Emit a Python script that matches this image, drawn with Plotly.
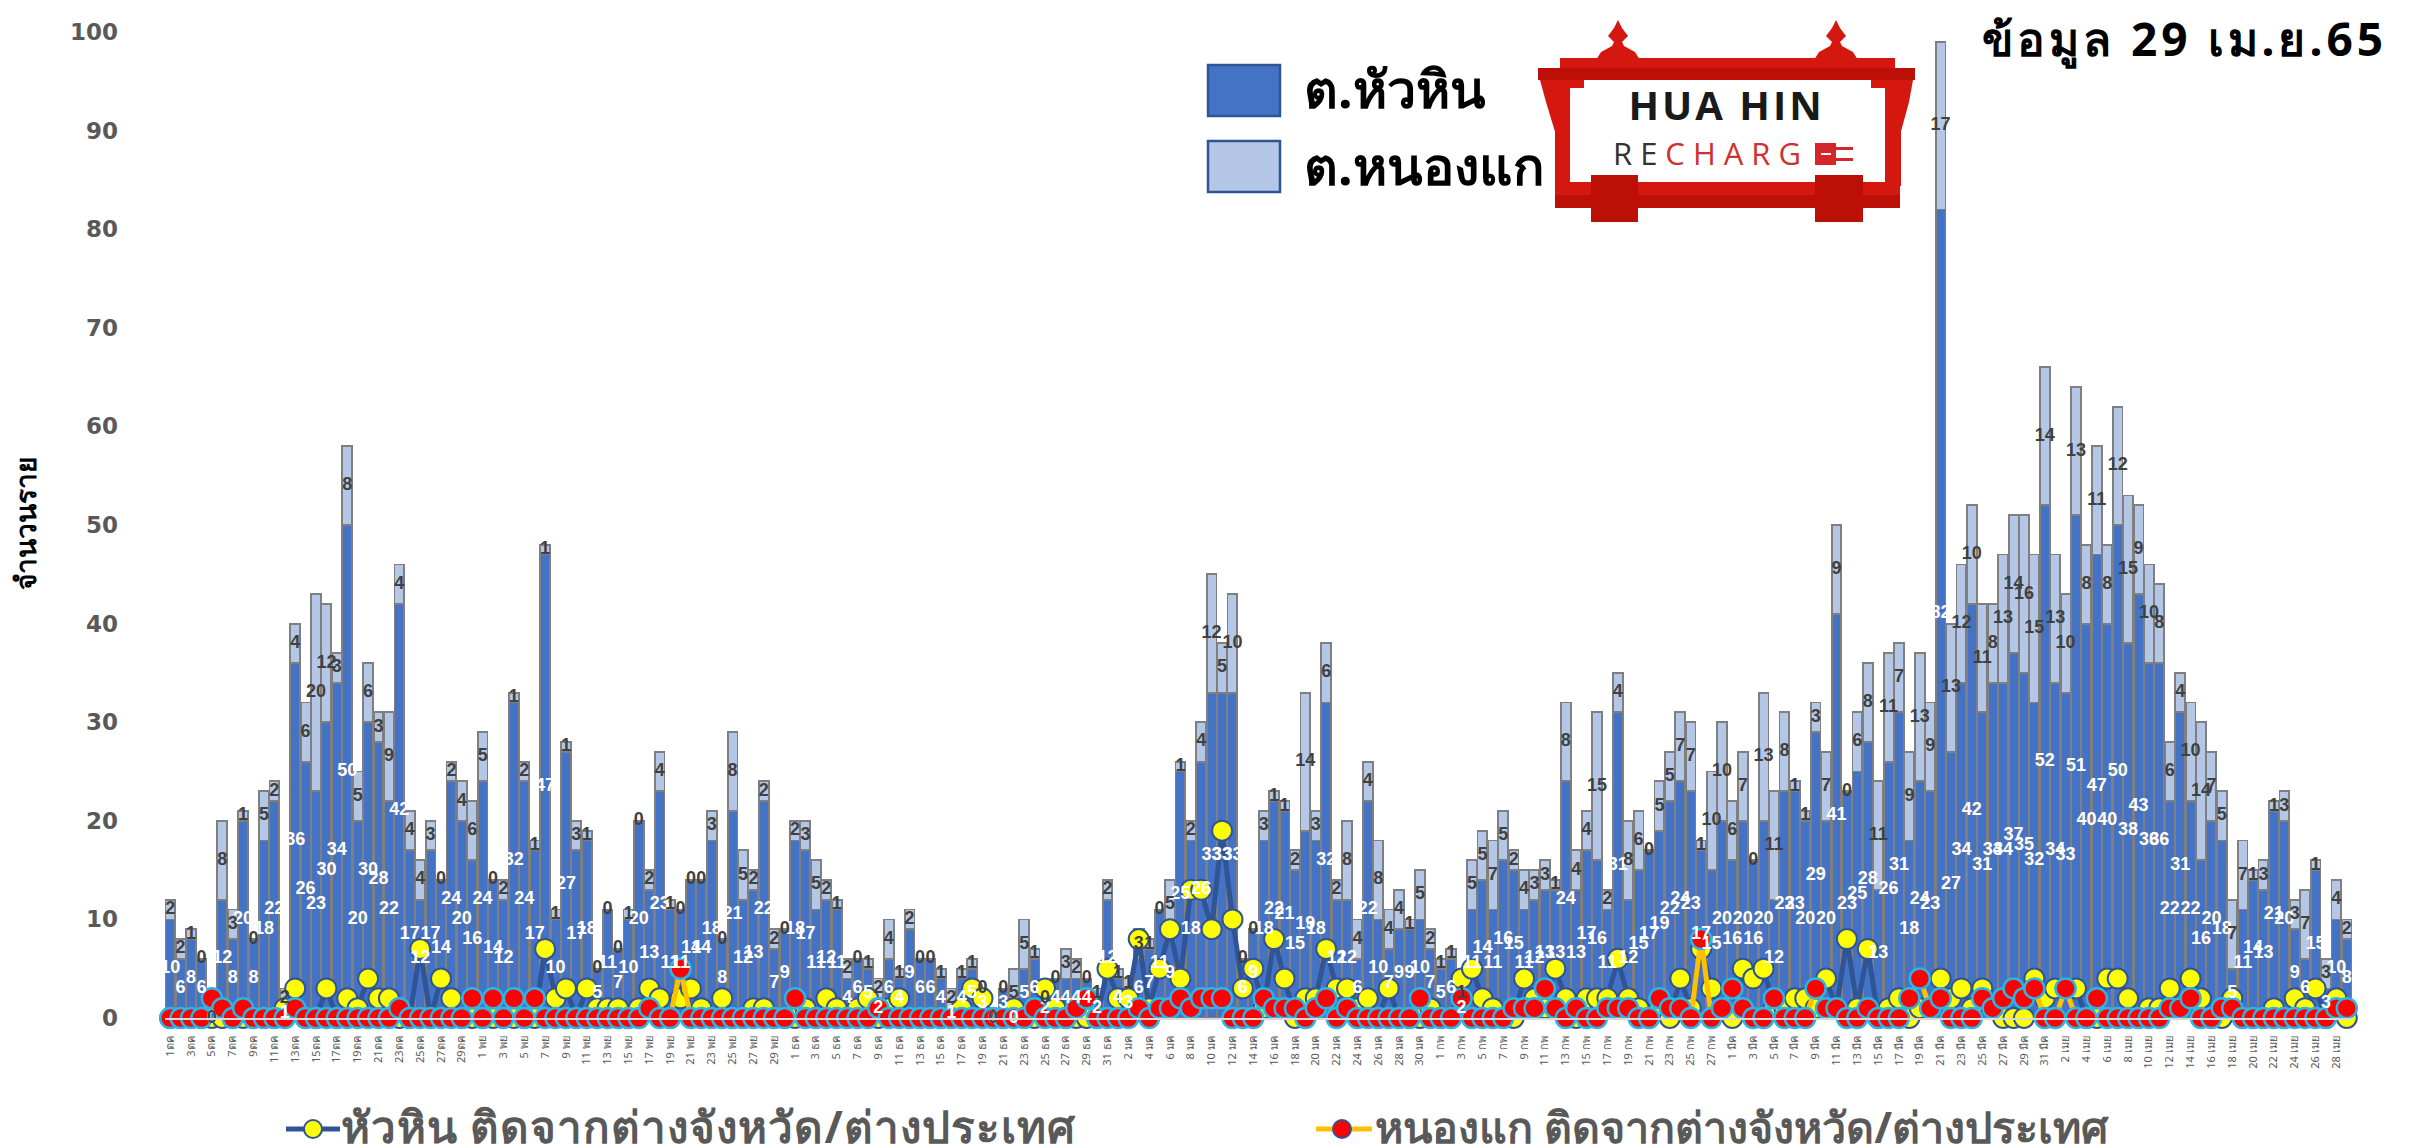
import plotly.graph_objects as go

month_names = ["ตค", "พย", "ธค", "มค", "กพ", "มีค", "เมย"]
month_days = [30, 30, 31, 31, 28, 31, 29]
categories = []
for m, n in zip(month_names, month_days):
    for d in range(1, n + 1):
        categories.append(f"{d}{m}" if m == "ตค" else f"{d} {m}")

huahin = [10,6,8,6,0,12,8,20,8,18, 22,1,36,26,23,30,34,50,20,30, 28,22,42,17,12,17,14,24,20,16,
24,14,12,32,24,17,47,10,27,17, 18,5,11,7,10,20,13,23,11,11, 14,14,18,8,21,12,13,22,7,9,
18,17,11,12,11,4,6,5,2,6, 4,9,6,6,4,1,4,5,3,0, 3,0,5,6,2,4,4,4,4,2,
12,4,3,6,7,11,9,25,18,26, 33,33,33,6,9,18,22,21,15,19, 18,32,12,12,6,22,10,7,9,9,
10,7,5,6,2,11,14,11,16,15, 11,12,13,13,24,13,17,16,11,31, 12,15,17,19,22,24,23,17,15,20,
16,20,16,20,12,23,23,20,29,20, 41,23,25,28,13,26,31,18,24,23, 82,27,34,42,31,34,34,37,35,32,
52,34,33,51,40,47,40,50,38,43, 36,36,22,31,22,16,20,18,5,11, 14,13,21,20,9,6,15,3,10,8]

nongkae = [2,2,1,0,0,8,3,1,0,5, 2,2,4,6,20,12,3,8,5,6, 3,9,4,4,4,3,0,2,4,6,
5,0,2,1,2,1,1,1,1,3, 1,0,0,0,1,0,2,4,1,0, 0,0,3,0,8,5,2,2,2,0,
2,3,5,2,1,2,0,1,2,4, 1,2,0,0,1,2,1,1,0,0, 0,5,5,1,0,0,3,2,0,1,
2,1,1,3,1,0,5,1,2,4, 12,5,10,0,0,3,1,1,2,14, 3,6,2,8,4,4,8,4,4,1,
5,2,1,1,1,5,5,7,5,2, 4,3,3,1,8,4,4,15,2,4, 8,6,0,5,5,7,7,1,10,10,
6,7,0,13,11,8,1,1,3,7, 9,0,6,8,11,11,7,9,13,9, 17,13,12,10,11,8,13,14,16,15,
14,13,10,13,8,11,8,12,15,9, 10,8,6,4,10,14,7,5,7,7, 1,3,1,3,3,7,1,3,4,2]

huahin_outside = [0,0,0,0,0,0,0,0,0,0, 0,1,3,0,0,3,0,2,1,4, 2,2,0,0,7,0,4,2,0,0,
0,0,0,0,0,0,7,2,3,0, 3,1,1,1,0,1,3,2,0,2, 3,1,0,2,0,0,1,1,0,0,
0,1,0,2,1,0,1,2,0,1, 2,0,0,0,0,0,1,3,2,0, 0,1,0,0,3,1,0,0,0,0,
5,2,2,8,1,5,9,4,13,13, 9,19,10,3,5,1,8,4,0,2, 2,7,3,3,1,2,0,3,0,0,
0,1,0,0,4,5,2,1,0,0, 4,2,1,5,2,0,2,2,2,6, 2,1,0,1,0,4,1,7,3,1,
0,5,4,5,1,1,2,2,1,4, 1,8,1,7,0,1,2,0,1,1, 4,2,3,1,3,1,0,0,0,4,
2,3,3,3,0,0,4,4,2,0, 1,1,3,1,4,2,0,0,2,0, 0,0,1,0,2,1,3,0,2,0]

nongkae_outside = [0,0,0,0,2,1,0,1,0,0, 0,0,1,0,0,0,0,0,0,0, 0,0,1,0,0,0,0,0,0,2,
0,2,0,2,0,2,0,0,0,0, 0,0,0,0,0,0,1,0,0,5, 0,0,0,0,0,0,0,0,0,0,
2,0,0,0,0,0,0,0,1,0, 0,0,0,0,0,0,0,0,0,0, 0,0,0,1,0,0,0,1,2,0,
0,0,0,1,0,1,1,2,1,2, 2,2,0,0,0,2,1,1,1,0, 1,2,0,1,0,0,0,0,0,0,
2,0,0,0,2,0,0,0,0,1, 1,1,3,1,0,1,0,0,1,1, 1,0,0,2,1,1,0,8,0,1,
3,1,0,0,2,0,0,0,3,1, 1,0,0,1,0,0,0,2,4,1, 2,0,0,0,2,1,2,3,2,3,
0,0,3,0,0,2,0,0,0,0, 0,0,1,1,2,0,0,1,1,0, 0,0,0,0,0,0,0,0,1,1]

y_ticks = list(range(0, 101, 10))
title_text = "ข้อมูล 29 เม.ย.65"
y_title = "จำนวนราย"
legend_bar = ["ต.หัวหิน", "ต.หนองแก"]
legend_line = ["หัวหิน ติดจากต่างจังหวัด/ต่างประเทศ", "หนองแก ติดจากต่างจังหวัด/ต่างประเทศ"]

W, H, L, R, T, B = 2412, 1148, 165, 60, 32, 130
def xp(px): return (px - L) / (W - L - R)
def yp(py): return 1 - (py - T) / (H - T - B)

BAR_EDGE = "#7F7F7F"
fig = go.Figure()
fig.add_bar(x=categories, y=huahin, marker=dict(color="#4472C4", line=dict(color=BAR_EDGE, width=1.8)), showlegend=False)
fig.add_bar(x=categories, y=nongkae, marker=dict(color="#B4C7E7", line=dict(color=BAR_EDGE, width=1.8)), showlegend=False)
fig.add_scatter(x=categories, y=huahin_outside, mode="lines+markers", showlegend=False, cliponaxis=False,
                line=dict(color="#2F5597", width=5),
                marker=dict(color="#FFFF00", size=20, line=dict(color="#2F5597", width=2)))
fig.add_scatter(x=categories, y=nongkae_outside, mode="lines+markers", showlegend=False, cliponaxis=False,
                line=dict(color="#FFC000", width=5),
                marker=dict(color="#FF0000", size=20, line=dict(color="#29B5E8", width=2.5)))
fig.add_scatter(x=categories, y=[v / 2 for v in huahin], mode="text", text=[str(v) for v in huahin],
                showlegend=False, textposition="middle center", cliponaxis=False,
                textfont=dict(color="#FFFFFF", size=18, family="Liberation Sans", weight="bold"))
fig.add_scatter(x=categories, y=[a + b / 2 for a, b in zip(huahin, nongkae)], mode="text",
                text=[str(v) for v in nongkae], showlegend=False, textposition="middle center", cliponaxis=False,
                textfont=dict(color="#404040", size=18, family="Liberation Sans", weight="bold"))

RED = "#D5180F"
DARKRED = "#BC0F08"
shapes = []
def rect(x0, y0, x1, y1, fill, line=None, lw=0):
    shapes.append(dict(type="rect", xref="paper", yref="paper", x0=xp(x0), x1=xp(x1), y0=yp(y0), y1=yp(y1),
                       fillcolor=fill, line=dict(color=line or fill, width=lw), layer="above"))
def poly(points, fill):
    path = "M " + " L ".join(f"{xp(a)},{yp(b)}" for a, b in points) + " Z"
    shapes.append(dict(type="path", xref="paper", yref="paper", path=path, fillcolor=fill, line=dict(width=0), layer="above"))

# bar key
rect(1208, 65, 1280, 116, "#4472C4", "#2F5597", 2.5)
rect(1208, 141, 1280, 192, "#B4C7E7", "#2F5597", 2.5)
# logo
for cx in (1618, 1836):
    poly([(cx, 20), (cx + 4, 28), (cx + 10, 36), (cx + 4, 42), (cx + 6, 46), (cx + 17, 52), (cx + 22, 60),
          (cx - 22, 60), (cx - 17, 52), (cx - 6, 46), (cx - 4, 42), (cx - 10, 36), (cx - 4, 28)], RED)
rect(1560, 58, 1895, 68, RED)
rect(1538, 68, 1915, 80, DARKRED)
poly([(1540, 80), (1570, 80), (1570, 135), (1556, 135), (1546, 102)], RED)
poly([(1913, 80), (1885, 80), (1885, 135), (1900, 135), (1909, 102)], RED)
rect(1555, 130, 1570, 186, RED)
rect(1885, 130, 1901, 186, RED)
rect(1570, 80, 1885, 182, "#FFFFFF")
rect(1570, 80, 1584, 88, RED)
rect(1871, 80, 1885, 88, RED)
rect(1555, 182, 1900, 195, RED)
rect(1555, 195, 1900, 208, DARKRED)
rect(1591, 175, 1638, 222, DARKRED)
rect(1815, 175, 1863, 222, DARKRED)
rect(1815, 143, 1836, 165, "#D5262C")
rect(1836, 147, 1853, 150, "#D5262C")
rect(1836, 158, 1853, 161, "#D5262C")
rect(1821, 153, 1831, 155, "#FFFFFF")
# line keys
shapes.append(dict(type="line", xref="paper", yref="paper", x0=xp(286), x1=xp(340), y0=yp(1129), y1=yp(1129),
                   line=dict(color="#2F5597", width=5), layer="above"))
shapes.append(dict(type="line", xref="paper", yref="paper", x0=xp(1316), x1=xp(1372), y0=yp(1129), y1=yp(1129),
                   line=dict(color="#FFC000", width=5), layer="above"))
for cx, fill, edge in ((313, "#FFFF00", "#2F5597"), (1342, "#FF0000", "#2F5597")):
    shapes.append(dict(type="circle", xref="paper", yref="paper", x0=xp(cx - 9), x1=xp(cx + 9), y0=yp(1138), y1=yp(1120),
                       fillcolor=fill, line=dict(color=edge, width=2), layer="above"))

def note(px, py, text, size, color="#000000", anchor="center", family="Noto Sans", bold=True):
    return dict(xref="paper", yref="paper", x=xp(px), y=yp(py), text=f"<b>{text}</b>" if bold else text, showarrow=False,
                xanchor=anchor, yanchor="middle", font=dict(size=size, color=color, family=family))

annotations = [
    note(1302, 88, legend_bar[0], 52, anchor="left"),
    note(1302, 165, legend_bar[1], 52, anchor="left"),
    note(2359, 38, title_text, 46, anchor="right"),
    note(25, 524, y_title, 28) | dict(textangle=-90),
    note(353, 1126, legend_line[0], 44, "#595959", "left"),
    note(1373, 1126, legend_line[1], 43, "#595959", "left"),
    note(1726, 104, "HUA HIN", 40, "#1A1A1A", family="Open Sans"),
    note(1711, 153, 'RE<span style="color:#D0302F">CHARG</span>', 31, "#333333", family="Open Sans", bold=False),
]
annotation_spacing = [0, 0, 4, 0, 1, 0, 3, 8]

fig.update_layout(
    barmode="stack", bargap=0.06, width=W, height=H, autosize=False,
    margin=dict(l=L, r=R, t=T, b=B, pad=0), plot_bgcolor="#FFFFFF", paper_bgcolor="#FFFFFF",
    shapes=shapes, annotations=annotations,
    xaxis=dict(type="category", categoryorder="array", categoryarray=categories, tickmode="array",
               tickvals=categories[::2], ticktext=categories[::2], tickangle=-90,
               tickfont=dict(size=11, color="#595959", family="Noto Sans"),
               ticks="outside", ticklen=12, tickcolor="rgba(0,0,0,0)", showgrid=False,
               showline=True, linecolor="#D9D9D9", linewidth=2, range=[-0.5, 209.5]),
    yaxis=dict(range=[0, 100], tickvals=y_ticks, showgrid=False, zeroline=False, showline=False, ticklen=0,
               ticklabelstandoff=46,
               tickfont=dict(size=23, color="#595959", family="DejaVu Sans", weight="bold")),
)
post = ("document.body.style.margin='0';document.body.style.overflow='hidden';"
        "var sp=" + str(annotation_spacing) + ";"
        "document.querySelectorAll('.annotation-text').forEach(function(t,i){t.style.letterSpacing=sp[i]+'px';});")
fig.write_html("out.html", post_script=post, config={"displayModeBar": False})
